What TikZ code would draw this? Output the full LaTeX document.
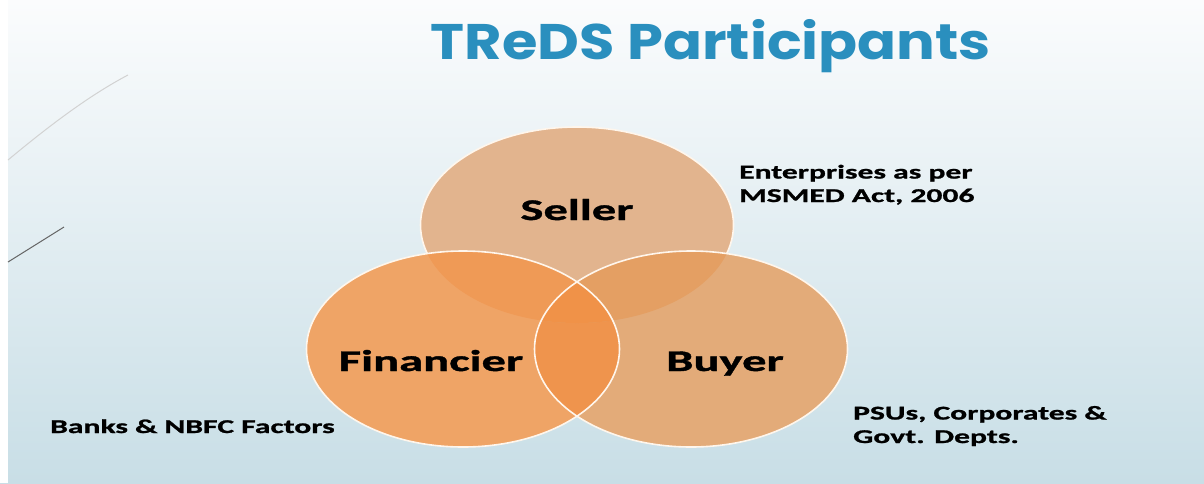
\documentclass[tikz,border=0pt]{standalone}
\usepackage{fontspec}
\setmainfont{Carlito}[FakeStretch=1.62,BoldFeatures={FakeBold=1.2}]
\newfontfamily\titlefont{Poppins}[FakeStretch=1.15]
\definecolor{tredsblue}{HTML}{2A8FBE}
\definecolor{sellerfill}{HTML}{E2B48E}
\definecolor{finfill}{HTML}{EFA466}
\definecolor{buyfill}{HTML}{E3AB79}
\definecolor{sellfin}{HTML}{EF9A56}
\definecolor{sellbuy}{HTML}{E49F63}
\definecolor{finbuy}{HTML}{EF944D}
\definecolor{allthree}{HTML}{F09248}
\definecolor{rim}{HTML}{FFF6EC}
\definecolor{skytop}{HTML}{FBFCFD}
\definecolor{skymid}{HTML}{E6EFF3}
\definecolor{skybot}{HTML}{C8DEE6}
\begin{document}
\begin{tikzpicture}[x=1pt,y=1pt,
	venn/.style={x radius=156.5,y radius=98},
	rimline/.style={draw=rim,line width=1.6pt},
	tag/.style={inner sep=0pt,font=\fontsize{30}{36}\selectfont\bfseries},
	side/.style={inner sep=0pt,align=left,font=\fontsize{19.5}{23.5}\selectfont\bfseries}]
	\useasboundingbox (0,0) rectangle (1204,-483);
	\shade[top color=skytop,middle color=skymid,bottom color=skybot] (0,0) rectangle (1204,-483);
	\fill[white] (0,0) rectangle (8,-483);
	\draw[gray!35,line width=1pt] (8,-160) .. controls (50,-125) and (90,-95) .. (128,-75);
	\draw[gray!80!black,line width=1pt] (8,-262) -- (64,-227);
	\coordinate (seller) at (577,-225);
	\coordinate (financier) at (463,-349);
	\coordinate (buyer) at (691,-349);
	\fill[sellerfill] (seller) ellipse[venn];
	\draw[rimline] (seller) ellipse[venn];
	\fill[finfill] (financier) ellipse[venn];
	\fill[buyfill] (buyer) ellipse[venn];
	\begin{scope}
		\clip (financier) ellipse[venn];
		\fill[finbuy] (buyer) ellipse[venn];
	\end{scope}
	\begin{scope}
		\clip (seller) ellipse[venn];
		\fill[sellfin] (financier) ellipse[venn];
		\fill[sellbuy] (buyer) ellipse[venn];
		\clip (financier) ellipse[venn];
		\fill[allthree] (buyer) ellipse[venn];
	\end{scope}
	\draw[rimline] (financier) ellipse[venn];
	\draw[rimline] (buyer) ellipse[venn];
	\node[anchor=base,inner sep=0pt,text=tredsblue,font=\titlefont\fontsize{50}{60}\selectfont\bfseries] (title) at (711,-59) {TReDS Participants};
	\node[tag,anchor=base] (sellertag) at (577,-220) {Seller};
	\node[tag,anchor=base] (financiertag) at (431,-371) {Financier};
	\node[tag,anchor=base] (buyertag) at (725,-371) {Buyer};
	\node[side,anchor=base west] (sellernote) at (739,-202) {Enterprises as per\\MSMED Act, 2006};
	\node[side,anchor=base west] (financiernote) at (50,-433) {Banks \& NBFC Factors};
	\node[side,anchor=base west] (buyernote) at (853,-443) {PSUs, Corporates \&\\Govt. Depts.};
\end{tikzpicture}
\end{document}
